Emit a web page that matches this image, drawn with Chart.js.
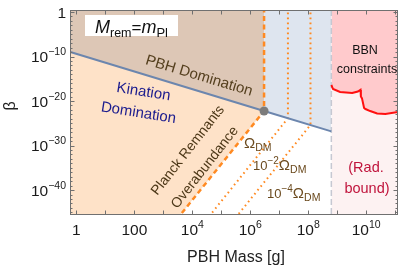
<!DOCTYPE html>
<html>
<head>
<meta charset="utf-8">
<script src="https://cdn.jsdelivr.net/npm/chart.js@4.4.1/dist/chart.umd.min.js"></script>
<style>
  html, body { margin: 0; padding: 0; background: #fff; }
  canvas { display: block; }
</style>
</head>
<body>
<canvas id="chart" width="407" height="268"></canvas>
<script>
// plot range (PBH mass in g, beta)
const massMin = 0.617, massMax = 1.26e11;
const betaMin = 2.5e-46, betaMax = 2.82;

// kination / PBH domination boundary, split at the grey dot
const lineMass = [0.617, 3.0e6, 6.3e8];
const lineBeta = [1.0e-9, 5.9e-23, 1.5e-27];

// remnant abundance lines: vertical above the boundary, diagonal below it
const omegaDmMass = [3.0e6, 3.0e6, 3.43e3];
const omegaDmBeta = [10, 5.9e-23, 1e-46];
const omega2Mass = [2.0e7, 2.0e7, 3.7e4];
const omega2Beta = [10, 1.4e-24, 1e-46];
const omega4Mass = [1.2e8, 1.2e8, 3.3e5];
const omega4Beta = [10, 4.2e-26, 1e-46];

// BBN constraint edge
const bbnMass = [6.3e8, 7.2e8, 1.26e9, 3.3e9, 5.2e9, 6.4e9, 6.6e9, 7.2e9, 8.5e9, 9.5e9, 1.38e10, 2.4e10, 4.6e10, 1.26e11];
const bbnBeta = [4e-17, 5e-18, 1.05e-18, 6.3e-19, 1.35e-18, 3.2e-18, 1e-19, 4e-20, 2.7e-22, 1.6e-22, 5.6e-23, 1.55e-23, 1.2e-23, 3.4e-23];
const radBoundMass = 6.3e8;

// ticks
const xTickExp = [0, 2, 4, 6, 8, 10];
const xTickText = ['1', '100', '10^4', '10^6', '10^8', '10^10'];
const yTickExp = [0, -10, -20, -30, -40];
const yTickText = ['1', '10^\u221210', '10^\u221220', '10^\u221230', '10^\u221240'];

const pts = (m, b) => m.map((v, i) => ({ x: v, y: b[i] }));
const font = (size, style) => (style ? style + ' ' : '') + size + 'px "Liberation Sans", Arial, sans-serif';
const none = 'rgba(0,0,0,0)';
const orange = '#ff8a22';

// draw a run of text pieces [text, size, dy, style]
function drawRuns(ctx, parts, x, y, align) {
    let w = 0;
    parts.forEach(p => { ctx.font = font(p[1], p[3]); w += ctx.measureText(p[0]).width; });
    let cx = align === 'center' ? x - w / 2 : align === 'right' ? x - w : x;
    parts.forEach(p => {
        ctx.font = font(p[1], p[3]);
        ctx.fillText(p[0], cx, y + (p[2] || 0));
        cx += ctx.measureText(p[0]).width;
    });
}

function powerParts(label, base, sup) {
    const [b, e] = label.split('^');
    return e ? [[b, base], [e, sup, -7]] : [[b, base]];
}

function rotatedText(ctx, text, size, color, x, y, deg) {
    ctx.save();
    ctx.translate(x, y);
    ctx.rotate(deg * Math.PI / 180);
    ctx.font = font(size);
    ctx.fillStyle = color;
    ctx.textAlign = 'center';
    ctx.textBaseline = 'middle';
    ctx.fillText(text, 0, 0);
    ctx.restore();
}

const decorations = {
    id: 'decorations',
    afterDraw(chart) {
        const { ctx, chartArea: a, scales: { x, y } } = chart;
        ctx.save();

        // frame and inward ticks
        ctx.strokeStyle = '#707070';
        ctx.lineWidth = 1;
        ctx.strokeRect(a.left + 0.5, a.top + 0.5, a.right - a.left - 1, a.bottom - a.top - 1);
        ctx.beginPath();
        for (let e = 0; e <= 11; e++) {
            const px = Math.round(x.getPixelForValue(10 ** e)) + 0.5;
            ctx.moveTo(px, a.bottom); ctx.lineTo(px, a.bottom - 4.5);
            ctx.moveTo(px, a.top); ctx.lineTo(px, a.top + 4.5);
        }
        for (let e = 0; e >= -45; e--) {
            const py = Math.round(y.getPixelForValue(10 ** e)) + 0.5;
            const len = e % 10 === 0 ? 4.5 : 2.5;
            ctx.moveTo(a.left, py); ctx.lineTo(a.left + len, py);
            ctx.moveTo(a.right, py); ctx.lineTo(a.right - len, py);
        }
        ctx.stroke();

        // tick labels
        ctx.fillStyle = '#1a1a1a';
        ctx.textBaseline = 'alphabetic';
        ctx.textAlign = 'left';
        xTickExp.forEach((e, i) => {
            drawRuns(ctx, powerParts(xTickText[i], 15.5, 10.5), x.getPixelForValue(10 ** e), a.bottom + 20, 'center');
        });
        yTickExp.forEach((e, i) => {
            drawRuns(ctx, powerParts(yTickText[i], 15.5, 10.5), a.left - 4, y.getPixelForValue(10 ** e) + 5.5, 'right');
        });

        // axis titles
        ctx.fillStyle = '#222';
        drawRuns(ctx, [['PBH Mass [g]', 16]], 236, 262, 'center');
        rotatedText(ctx, '\u03b2', 16, '#222', 11, 106, -90);

        // M_rem = m_Pl box
        ctx.fillStyle = '#fff';
        ctx.fillRect(85, 15, 93, 21);
        ctx.fillStyle = '#111';
        ctx.textAlign = 'left';
        ctx.textBaseline = 'alphabetic';
        drawRuns(ctx, [['M', 18, 0, 'italic'], ['rem', 12.5, 3.5], ['=', 17], ['m', 18, 0, 'italic'], ['Pl', 13, 3.5]], 95, 33, 'left');

        // region labels
        rotatedText(ctx, 'PBH Domination', 15, '#55401f', 199, 76, 16.7);
        rotatedText(ctx, 'Kination', 15, '#1c1c8e', 143.5, 92, 9);
        rotatedText(ctx, 'Domination', 15, '#1c1c8e', 138.5, 113, 9);
        rotatedText(ctx, 'Planck Remnants', 14, '#4d3818', 188, 150.5, -52);
        rotatedText(ctx, 'Overabundance', 14, '#4d3818', 205, 167.5, -52);
        rotatedText(ctx, 'BBN', 12.5, '#111', 365, 51, 0);
        rotatedText(ctx, 'constraints', 12.5, '#111', 367, 70, 0);
        rotatedText(ctx, '(Rad.', 14.5, '#c0143c', 366, 168, 0);
        rotatedText(ctx, 'bound)', 14.5, '#c0143c', 367, 189, 0);

        // abundance labels
        ctx.fillStyle = '#6b4a1e';
        ctx.textAlign = 'left';
        ctx.textBaseline = 'alphabetic';
        drawRuns(ctx, [['\u03a9', 15], ['DM', 10.5, 3]], 244, 148, 'left');
        drawRuns(ctx, [['10', 13], ['\u22122', 10, -6], ['\u03a9', 15], ['DM', 10.5, 3]], 253, 170, 'left');
        drawRuns(ctx, [['10', 13], ['\u22124', 10, -6], ['\u03a9', 15], ['DM', 10.5, 3]], 267, 198, 'left');

        ctx.restore();
    }
};

const datasets = [
    // fills
    { data: pts(lineMass.slice(0, 2), lineBeta.slice(0, 2)), borderColor: none, backgroundColor: '#ddc7b6', fill: 'end', order: 10 },
    { data: pts(lineMass.slice(1), lineBeta.slice(1)), borderColor: none, backgroundColor: '#dee5ef', fill: 'end', order: 10 },
    { data: pts(lineMass.slice(0, 2), lineBeta.slice(0, 2)), borderColor: none, backgroundColor: '#fee2c8', fill: 3, order: 10 },
    { data: [{ x: massMin, y: 1e-46 }, { x: omegaDmMass[2], y: omegaDmBeta[2] }, { x: omegaDmMass[1], y: omegaDmBeta[1] }], borderColor: none, fill: false, order: 10 },
    { data: pts(bbnMass, bbnBeta), borderColor: none, backgroundColor: '#ffcacc', fill: 'end', order: 10 },
    { data: pts(bbnMass, bbnBeta), borderColor: none, backgroundColor: '#fdf2f2', fill: 'start', order: 10 },
    // lines
    { data: [{ x: radBoundMass, y: betaMax }, { x: radBoundMass, y: betaMin }], borderColor: '#c6c8d2', borderWidth: 1.5, borderDash: [6, 3], fill: false, order: 5 },
    { data: pts(omega4Mass, omega4Beta), borderColor: orange, borderWidth: 2, borderDash: [1.6, 3.4], fill: false, order: 4 },
    { data: pts(omega2Mass, omega2Beta), borderColor: orange, borderWidth: 2, borderDash: [1.6, 3.4], fill: false, order: 4 },
    { data: pts(omegaDmMass, omegaDmBeta), borderColor: orange, borderWidth: 2.5, borderDash: [5, 3.5], fill: false, order: 3 },
    { data: pts(bbnMass, bbnBeta), borderColor: '#ff1010', borderWidth: 2, fill: false, order: 2 },
    { data: pts(lineMass, lineBeta), borderColor: '#6c86ae', borderWidth: 2, fill: false, order: 1 },
    { data: [{ x: lineMass[1], y: lineBeta[1] }], showLine: false, pointRadius: 4.5, pointBackgroundColor: '#7c7c7c', pointBorderWidth: 0, fill: false, order: 0 }
];

new Chart(document.getElementById('chart').getContext('2d'), {
    type: 'line',
    data: { datasets },
    options: {
        responsive: false,
        animation: false,
        devicePixelRatio: 1,
        events: [],
        elements: { point: { radius: 0 }, line: { tension: 0 } },
        layout: { padding: { left: 0, right: 9, top: 10, bottom: 0 } },
        scales: {
            x: {
                type: 'logarithmic', min: massMin, max: massMax,
                ticks: { display: false }, grid: { display: false }, border: { display: false },
                afterFit: s => { s.height = 53; }
            },
            y: {
                type: 'logarithmic', min: betaMin, max: betaMax,
                ticks: { display: false }, grid: { display: false }, border: { display: false },
                afterFit: s => { s.width = 70; }
            }
        },
        plugins: {
            legend: { display: false },
            tooltip: { enabled: false },
            filler: { drawTime: 'beforeDatasetsDraw' }
        }
    },
    plugins: [decorations]
});
</script>
</body>
</html>
